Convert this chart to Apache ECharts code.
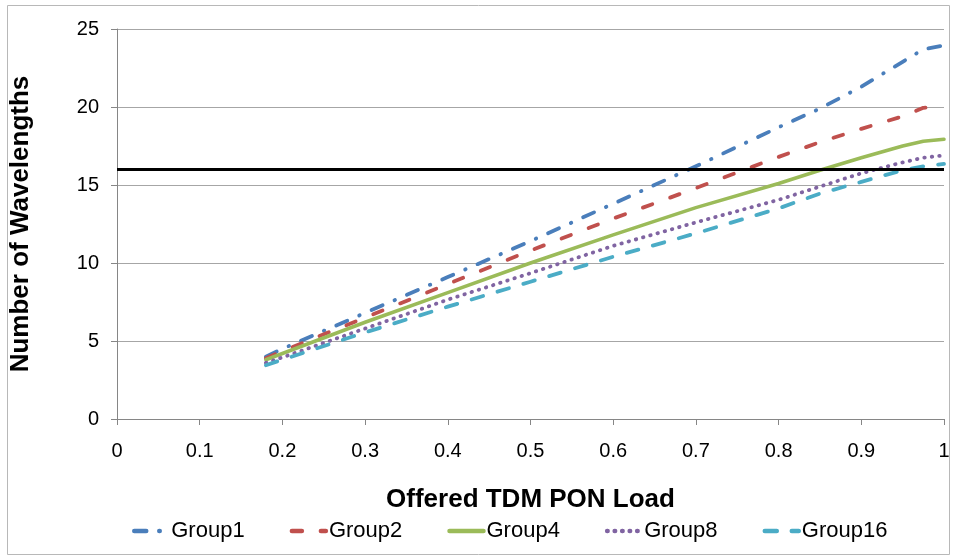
<!DOCTYPE html>
<html>
<head>
<meta charset="utf-8">
<script src="https://cdn.jsdelivr.net/npm/echarts@6/dist/echarts.min.js"></script>
<style>
  html, body { margin: 0; padding: 0; background: #ffffff; }
  #chart { width: 954px; height: 559px; }
</style>
</head>
<body>
<div id="chart"></div>
<script>
// Offered load (x) sample points shared by all groups
const loads = [0.18, 0.2, 0.3, 0.4, 0.5, 0.6, 0.7, 0.8, 0.85, 0.9, 0.95, 0.975, 1.0];

// Number of wavelengths required per grouping
const group1  = [4.0, 4.5, 6.8, 9.1, 11.4, 13.8, 16.2, 18.7, 19.9, 21.3, 22.9, 23.7, 23.95];
const group2  = [3.9, 4.35, 6.5, 8.65, 10.8, 12.85, 14.8, 16.8, 17.75, 18.6, 19.4, 19.95, 20.05];
const group4  = [3.8, 4.2, 6.2, 8.1, 10.0, 11.8, 13.55, 15.1, 15.95, 16.75, 17.5, 17.8, 17.93];
const group8  = [3.6, 3.95, 5.8, 7.65, 9.35, 11.1, 12.6, 14.05, 14.9, 15.75, 16.45, 16.75, 16.9];
const group16 = [3.45, 3.8, 5.55, 7.2, 8.8, 10.4, 11.9, 13.5, 14.45, 15.2, 15.95, 16.2, 16.35];

// Available wavelength limit
const limitValue = 16;

const seriesNames = ['Group1', 'Group2', 'Group4', 'Group8', 'Group16'];
const seriesValues = [group1, group2, group4, group8, group16];
const seriesColors = ['#4A7EBB', '#C0504D', '#9BBB59', '#8064A2', '#4BACC6'];
const seriesDash = [[12, 13, 0.5, 13], [10, 19], 'solid', [0.5, 7], [12, 15]];

const font = 'Liberation Sans, Arial, Helvetica, sans-serif';
const chart = echarts.init(document.getElementById('chart'), null, { renderer: 'canvas' });

const lineSeries = seriesNames.map((name, i) => ({
  name: name,
  type: 'line',
  data: loads.map((x, k) => [x, seriesValues[i][k]]),
  symbol: 'none',
  smooth: false,
  z: 3,
  lineStyle: {
    color: seriesColors[i],
    width: i === 2 ? 3.6 : 3.8,
    type: seriesDash[i],
    cap: 'round',
    join: 'round'
  },
  itemStyle: { color: seriesColors[i] }
}));

const limitSeries = {
  name: 'limit',
  type: 'line',
  data: [[0, limitValue], [1, limitValue]],
  symbol: 'none',
  silent: true,
  z: 4,
  lineStyle: { color: '#000000', width: 3, type: 'solid' }
};

chart.setOption({
  animation: false,
  backgroundColor: '#ffffff',
  graphic: [{
    type: 'rect',
    shape: { x: 7.5, y: 5.5, width: 942, height: 549 },
    style: { fill: 'none', stroke: '#b8b8b8', lineWidth: 1 },
    silent: true,
    z: -1
  }],
  grid: { left: 116, right: 10, top: 29, bottom: 140, containLabel: false },
  xAxis: {
    type: 'value',
    min: 0,
    max: 1,
    interval: 0.1,
    name: 'Offered TDM PON Load',
    nameLocation: 'middle',
    nameGap: 68,
    nameTextStyle: { fontFamily: font, fontSize: 26, fontWeight: 'bold', color: '#000' },
    axisLine: { show: true, lineStyle: { color: '#868686', width: 1 } },
    axisTick: { show: true, inside: false, length: 6, lineStyle: { color: '#868686' } },
    axisLabel: {
      fontFamily: font, fontSize: 20, color: '#000', margin: 22,
      formatter: v => String(+v.toFixed(1))
    },
    splitLine: { show: false }
  },
  yAxis: {
    type: 'value',
    min: 0,
    max: 25,
    interval: 5,
    name: 'Number of Wavelengths',
    nameLocation: 'middle',
    nameGap: 83,
    nameRotate: 90,
    nameTextStyle: { fontFamily: font, fontSize: 26, fontWeight: 'bold', color: '#000' },
    axisLine: { show: true, lineStyle: { color: '#868686', width: 1 } },
    axisTick: { show: true, inside: false, length: 6, lineStyle: { color: '#868686' } },
    axisLabel: { fontFamily: font, fontSize: 20, color: '#000', margin: 18 },
    splitLine: { show: true, lineStyle: { color: '#a6a6a6', width: 1.2 } }
  },
  legend: {
    data: seriesNames,
    bottom: 12,
    left: 127,
    itemWidth: 34,
    itemHeight: 14,
    itemGap: 45,
    itemStyle: { opacity: 0 },
    lineStyle: { width: 4.5 },
    textStyle: { fontFamily: font, fontSize: 22, color: '#000', padding: [0, 0, 0, -2] }
  },
  series: [limitSeries].concat(lineSeries)
});
</script>
</body>
</html>
